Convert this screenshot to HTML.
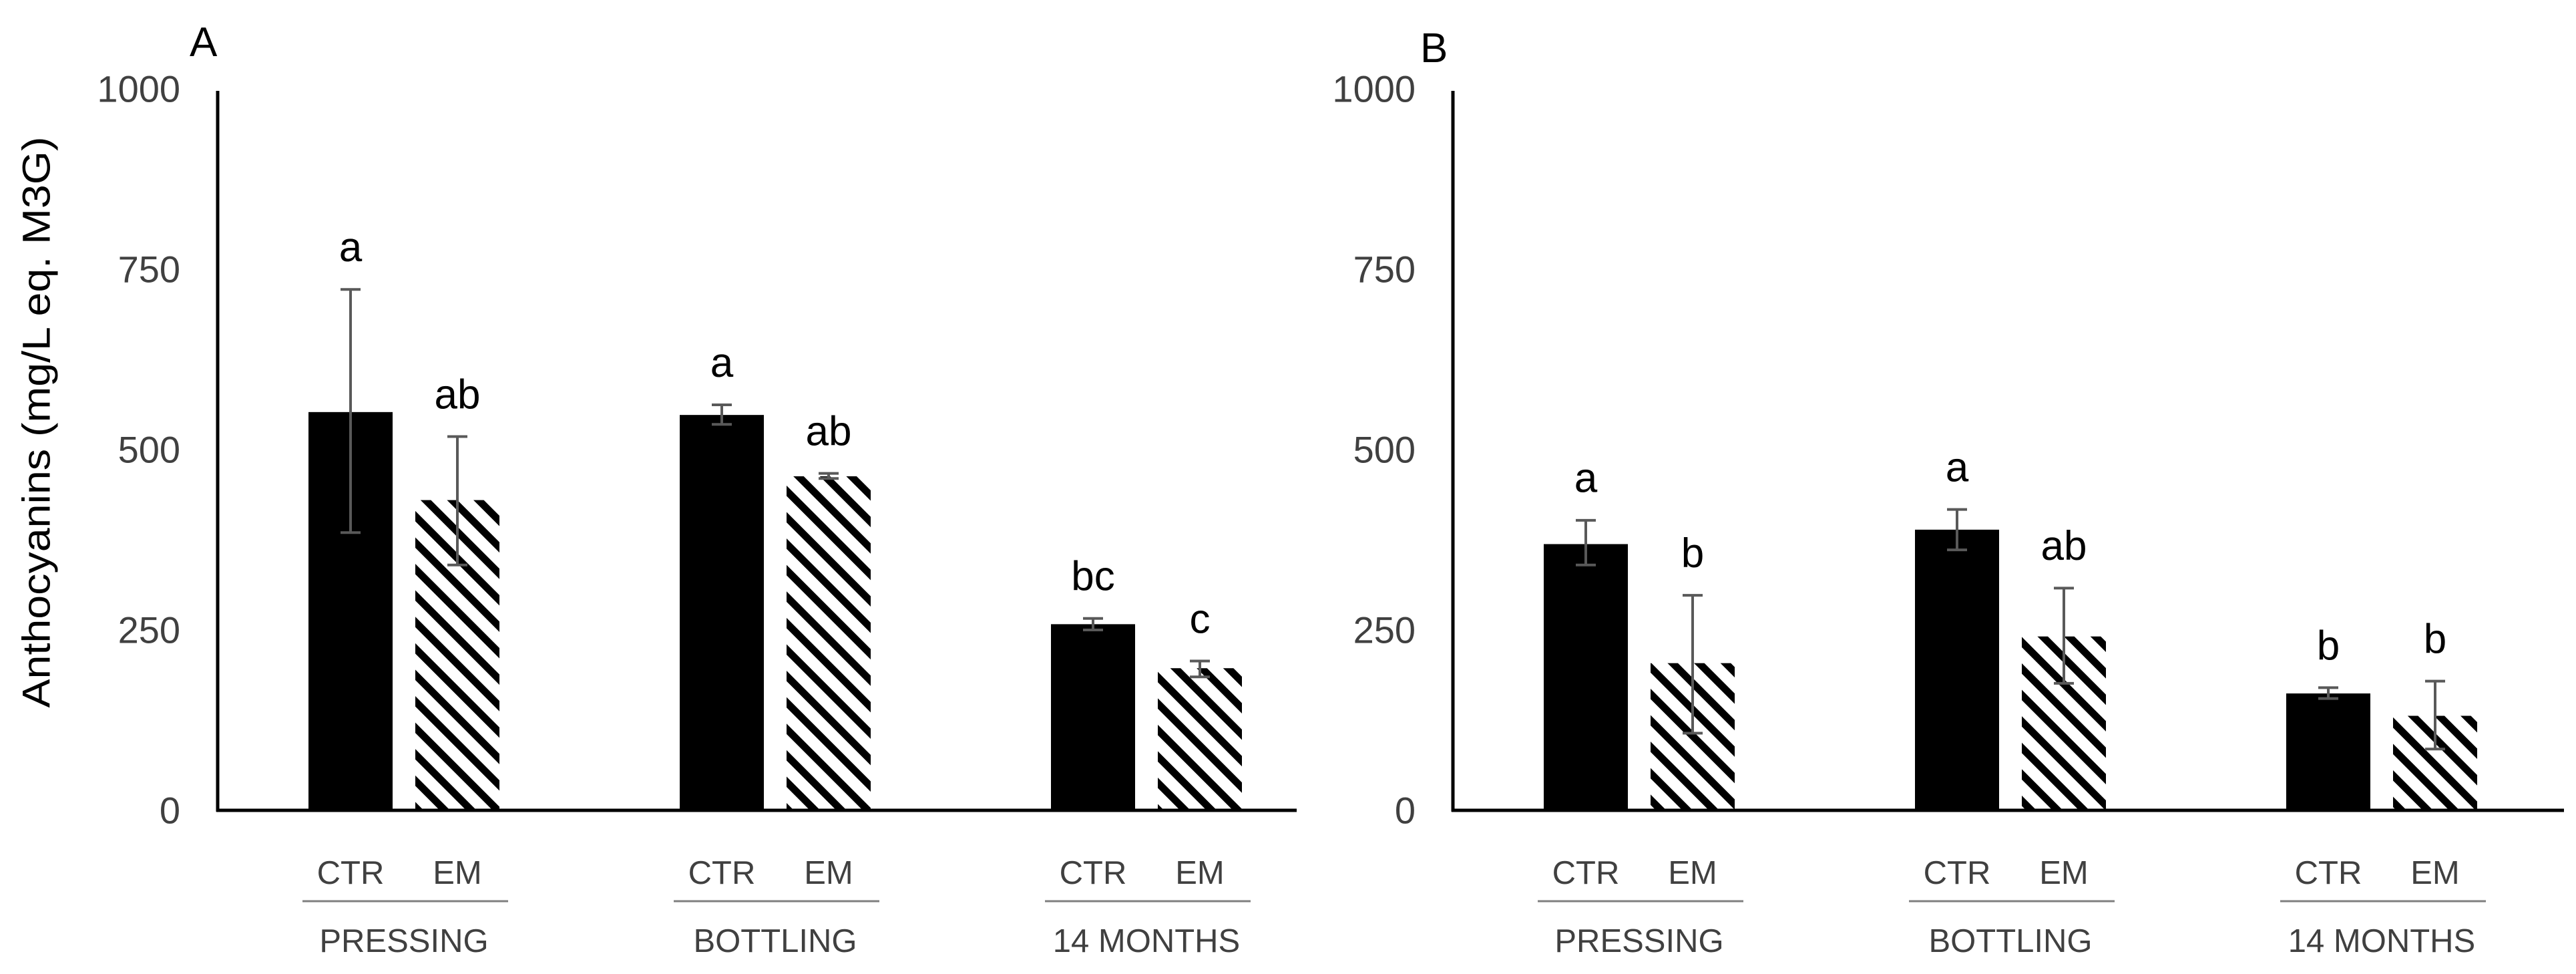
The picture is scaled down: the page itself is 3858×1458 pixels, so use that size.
<!DOCTYPE html>
<html><head><meta charset="utf-8"><style>
html,body{margin:0;padding:0;background:#fff;}
svg{display:block;font-family:"Liberation Sans",sans-serif;}
</style></head><body>
<svg id="chart" width="3858" height="1458" viewBox="0 0 3858 1458" xmlns="http://www.w3.org/2000/svg">
<defs>
<pattern id="hatch" patternUnits="userSpaceOnUse" width="28" height="28" patternTransform="rotate(-45)">
<rect x="0" y="0" width="28" height="28" fill="#fff"/>
<rect x="0" y="0" width="11" height="28" fill="#000"/>
</pattern>
</defs>
<text x="55" y="632" transform="rotate(-90 55 632)" text-anchor="middle" dominant-baseline="central" font-size="58" fill="#000" textLength="855" lengthAdjust="spacingAndGlyphs">Anthocyanins (mg/L eq. M3G)</text>
<g id="panels"></g>
</svg>
<script>
const groups = ["PRESSING", "BOTTLING", "14 MONTHS"];
const treatments = ["CTR", "EM"];
const yTicks = [0, 250, 500, 750, 1000];
const aCTR = [552, 548, 258];
const aCTRerrLow = [385, 535, 250];
const aCTRerrHigh = [722, 562, 266];
const aCTRletters = ["a", "a", "bc"];
const aEM = [430, 463, 197];
const aEMerrLow = [340, 460, 185];
const aEMerrHigh = [518, 467, 207];
const aEMletters = ["ab", "ab", "c"];
const bCTR = [369, 389, 162];
const bCTRerrLow = [340, 361, 155];
const bCTRerrHigh = [402, 417, 170];
const bCTRletters = ["a", "a", "b"];
const bEM = [204, 241, 131];
const bEMerrLow = [107, 176, 85];
const bEMerrHigh = [298, 308, 179];
const bEMletters = ["b", "ab", "b"];

const NS = "http://www.w3.org/2000/svg";
const root = document.getElementById("panels");
const Y0 = 1213, PXPER = 1.08;
function yScale(v){ return Y0 - v * PXPER; }
function mk(tag, attrs, parent, txt){
  const e = document.createElementNS(NS, tag);
  for (const k in attrs) e.setAttribute(k, attrs[k]);
  if (txt !== undefined) e.textContent = txt;
  parent.appendChild(e);
  return e;
}

function panel(id, axisX, axisEnd, letterX, letterY, series){
  const g = mk("g", {}, root);
  
  
  const pl = mk("text", {x: letterX, y: letterY, "font-size": 62, fill: "#000"}, g, id);
  
  
  yTicks.forEach(t => {
    const tl = mk("text", {x: axisX - 56, y: yScale(t), "text-anchor": "end", "dominant-baseline": "central", "font-size": 56, fill: "#404040"}, g, String(t));
    
    
  });
  const bw = 126;
  groups.forEach((grp, gi) => {
    series.forEach((s, si) => {
      const left = axisX + 136 + gi * 556 + si * 160;
      const cx = left + bw / 2;
      const top = yScale(s.vals[gi]);
      const bar = mk("rect", {x: left, y: top, width: bw, height: Y0 - top, fill: si === 0 ? "#000" : "url(#hatch)"}, g);
      
      
      const yl = yScale(s.lo[gi]), yh = yScale(s.hi[gi]);
      const eb = mk("path", {d: `M${cx},${yl}V${yh}M${cx-15},${yh}H${cx+15}M${cx-15},${yl}H${cx+15}`, stroke: "#595959", "stroke-width": 4, fill: "none"}, g);
      
      
      const lt = mk("text", {x: cx, y: yScale(s.hi[gi] + 39), "text-anchor": "middle", "font-size": 62, fill: "#000"}, g, s.letters[gi]);
      
      
      const tt = mk("text", {x: cx, y: 1323, "text-anchor": "middle", "font-size": 49, fill: "#404040"}, g, treatments[si]);
      
      
    });
    const gl = axisX + 136 + gi * 556;
    const ul = mk("line", {x1: gl - 9, x2: gl + 160 + bw + 13, y1: 1349, y2: 1349, stroke: "#7f7f7f", "stroke-width": 3}, g);
    
    
    const gt = mk("text", {x: gl + (160 + bw) / 2, y: 1425, "text-anchor": "middle", "font-size": 49, fill: "#404040"}, g, grp);
    
    
  });
  const ya = mk("line", {x1: axisX, x2: axisX, y1: yScale(1000) + 3, y2: Y0 + 2, stroke: "#000", "stroke-width": 5}, g);
  
  
  const xa = mk("line", {x1: axisX - 2, x2: axisEnd, y1: Y0, y2: Y0, stroke: "#000", "stroke-width": 5}, g);
  
  
}

panel("A", 326, 1942, 284, 84, [
  {vals: aCTR, lo: aCTRerrLow, hi: aCTRerrHigh, letters: aCTRletters},
  {vals: aEM, lo: aEMerrLow, hi: aEMerrHigh, letters: aEMletters}
]);
panel("B", 2176, 3840, 2127, 93, [
  {vals: bCTR, lo: bCTRerrLow, hi: bCTRerrHigh, letters: bCTRletters},
  {vals: bEM, lo: bEMerrLow, hi: bEMerrHigh, letters: bEMletters}
]);
</script>
</body></html>
